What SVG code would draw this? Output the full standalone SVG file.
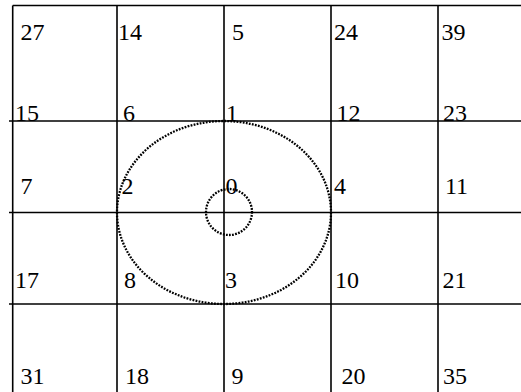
<svg xmlns="http://www.w3.org/2000/svg" width="521" height="392" viewBox="0 0 521 392">
<style>
.g{stroke:#000;stroke-width:1.6;fill:none}
.d{stroke:#000;stroke-width:2.3;fill:none;stroke-dasharray:1.8 1.3}
text{font-family:"Liberation Serif","Times New Roman",serif;font-size:24px;fill:#000}
</style>
<rect width="521" height="392" fill="#fff"/>
<g id="connectors">
<line class="g" x1="12.7" y1="5.5" x2="521" y2="5.5"/>
<line class="g" x1="9" y1="121" x2="521" y2="121"/>
<line class="g" x1="9" y1="212.5" x2="521" y2="212.5"/>
<line class="g" x1="9" y1="304" x2="521" y2="304"/>
<line class="g" x1="12.7" y1="5.5" x2="12.7" y2="392"/>
<line class="g" x1="117" y1="5.5" x2="117" y2="392"/>
<line class="g" x1="224" y1="5.5" x2="224" y2="392"/>
<line class="g" x1="331" y1="5.5" x2="331" y2="392"/>
<line class="g" x1="438" y1="5.5" x2="438" y2="392"/>
<ellipse class="d" cx="224" cy="212.5" rx="107" ry="91.5"/>
<circle class="d" cx="229" cy="212" r="23"/>
</g>
<g id="n27"><text x="20.5" y="40">27</text></g>
<g id="n14"><text x="118" y="40">14</text></g>
<g id="n5"><text x="232" y="40">5</text></g>
<g id="n24"><text x="334" y="40">24</text></g>
<g id="n39"><text x="441.5" y="40">39</text></g>
<g id="n15"><text x="15" y="121">15</text></g>
<g id="n6"><text x="123" y="121">6</text></g>
<g id="n1"><text x="226" y="121">1</text></g>
<g id="n12"><text x="336.5" y="121">12</text></g>
<g id="n23"><text x="443" y="121">23</text></g>
<g id="n7"><text x="20.5" y="194">7</text></g>
<g id="n2"><text x="121.5" y="194">2</text></g>
<g id="n0"><text x="225.5" y="194">0</text></g>
<g id="n4"><text x="334" y="194">4</text></g>
<g id="n11"><text x="445" y="194">11</text></g>
<g id="n17"><text x="15" y="288">17</text></g>
<g id="n8"><text x="124" y="288">8</text></g>
<g id="n3"><text x="225" y="288">3</text></g>
<g id="n10"><text x="335" y="288">10</text></g>
<g id="n21"><text x="442.5" y="288">21</text></g>
<g id="n31"><text x="20.5" y="384">31</text></g>
<g id="n18"><text x="125" y="384">18</text></g>
<g id="n9"><text x="231.5" y="384">9</text></g>
<g id="n20"><text x="341.5" y="384">20</text></g>
<g id="n35"><text x="443" y="384">35</text></g>
</svg>
